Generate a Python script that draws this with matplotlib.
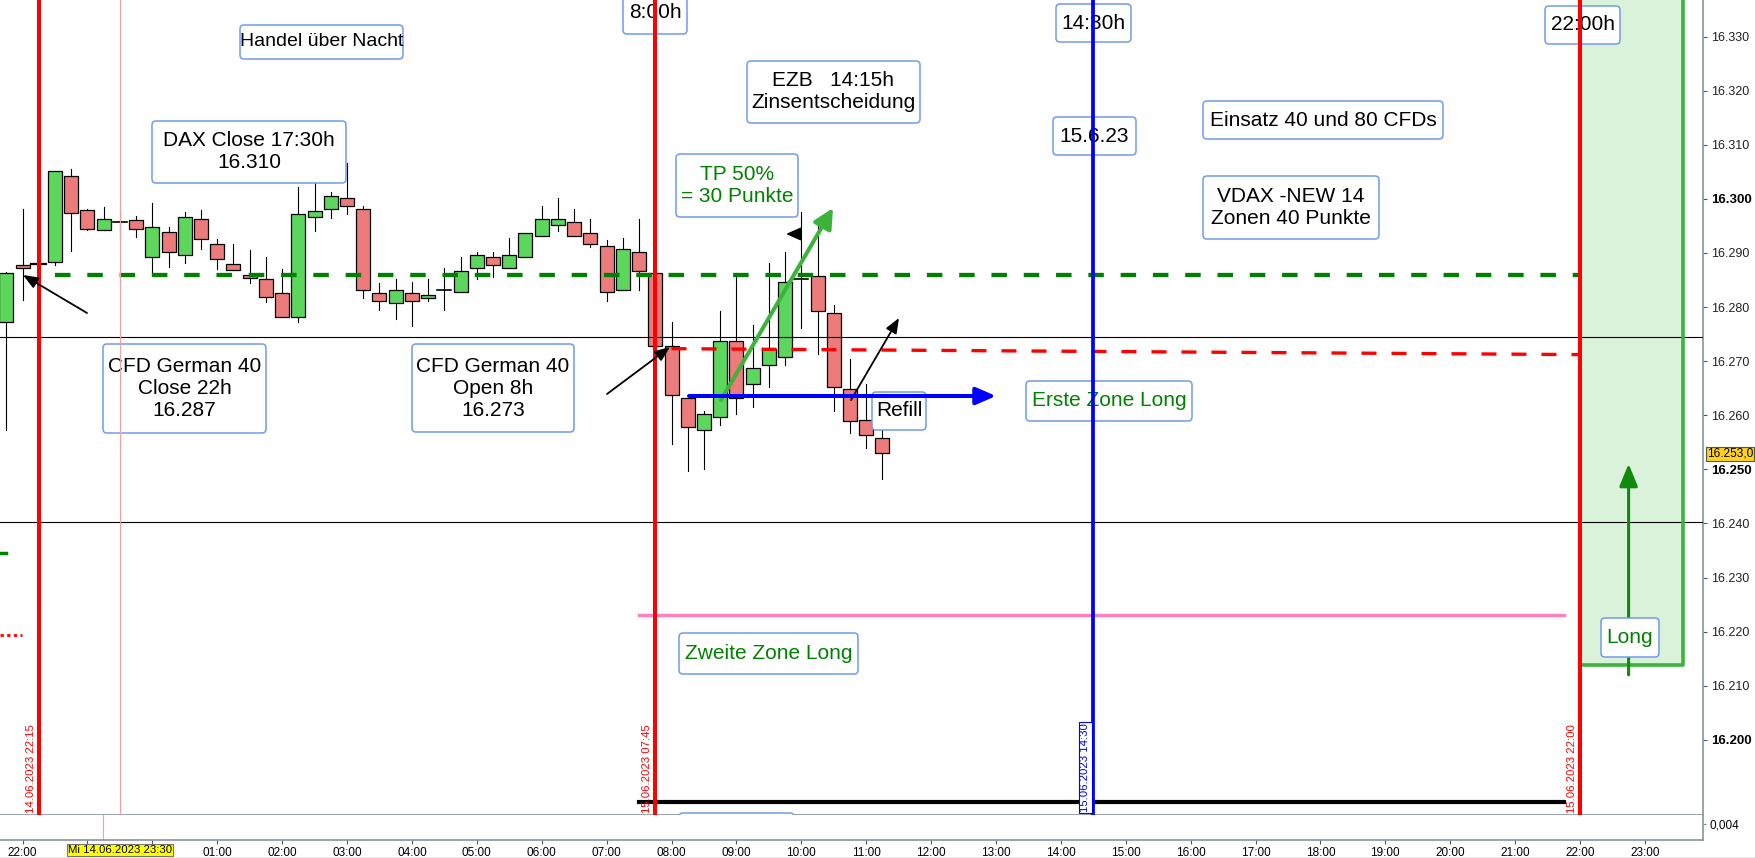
import matplotlib
matplotlib.use("Agg")
import matplotlib.pyplot as plt
from matplotlib.patches import Rectangle, FancyBboxPatch

plt.rcParams['font.family'] = ['Liberation Sans', 'DejaVu Sans']

# 15-min candles CFD German 40, 14.06.2023 21:45 .. 15.06.2023 11:15 (no bar at 22:15)
times = ['21:45', '22:00', '22:30', '22:45', '23:00', '23:15', '23:30', '23:45',
         '00:00', '00:15', '00:30', '00:45', '01:00', '01:15', '01:30', '01:45',
         '02:00', '02:15', '02:30', '02:45', '03:00', '03:15', '03:30', '03:45',
         '04:00', '04:15', '04:30', '04:45', '05:00', '05:15', '05:30', '05:45',
         '06:00', '06:15', '06:30', '06:45', '07:00', '07:15', '07:30', '07:45',
         '08:00', '08:15', '08:30', '08:45', '09:00', '09:15', '09:30', '09:45',
         '10:00', '10:15', '10:30', '10:45', '11:00', '11:15']
opens = [16277.2, 16287.8, 16288.3, 16304.2, 16297.9, 16294.2, 16295.8, 16296.0,
         16289.3, 16293.8, 16289.6, 16296.2, 16291.6, 16287.9, 16285.9, 16285.1,
         16282.6, 16278.1, 16296.6, 16298.1, 16300.1, 16298.1, 16282.6, 16280.7,
         16282.6, 16281.6, 16283.1, 16282.7, 16287.2, 16289.2, 16287.2, 16289.2,
         16293.1, 16295.1, 16295.7, 16293.6, 16291.2, 16283.1, 16290.1, 16286.2,
         16272.7, 16263.1, 16257.2, 16259.6, 16273.7, 16265.7, 16269.2, 16270.7,
         16285.1, 16285.7, 16278.8, 16264.8, 16259.2, 16255.7]
highs = [16286.4, 16298.1, 16305.1, 16305.5, 16298.1, 16298.4, 16297.6, 16296.8,
         16299.3, 16294.7, 16297.6, 16297.9, 16292.6, 16291.6, 16290.5, 16289.2,
         16287.0, 16302.1, 16304.2, 16301.2, 16306.6, 16298.7, 16284.5, 16285.1,
         16284.6, 16285.1, 16287.2, 16289.2, 16290.2, 16290.2, 16292.7, 16293.6,
         16298.7, 16300.1, 16298.1, 16296.2, 16292.3, 16292.7, 16296.2, 16286.2,
         16277.2, 16263.1, 16260.8, 16279.2, 16286.2, 16276.6, 16288.1, 16290.2,
         16297.5, 16296.2, 16280.3, 16270.3, 16265.7, 16258.3]
lows = [16257.3, 16281.3, 16287.8, 16290.4, 16294.3, 16294.2, 16292.7, 16293.0,
        16285.9, 16287.4, 16288.1, 16290.7, 16287.0, 16286.8, 16284.5, 16281.0,
        16278.1, 16277.2, 16294.1, 16296.5, 16297.1, 16281.6, 16279.5, 16277.7,
        16276.5, 16281.2, 16279.5, 16282.7, 16285.1, 16285.6, 16287.2, 16289.2,
        16293.1, 16294.1, 16293.1, 16291.1, 16281.2, 16283.1, 16283.1, 16272.7,
        16254.6, 16249.6, 16250.1, 16258.1, 16260.2, 16261.6, 16265.2, 16269.2,
        16276.2, 16271.3, 16260.7, 16256.8, 16253.9, 16248.2]
closes = [16286.2, 16287.2, 16305.1, 16297.3, 16294.5, 16296.2, 16295.8, 16294.4,
          16294.7, 16290.1, 16296.6, 16292.5, 16288.8, 16286.8, 16285.4, 16281.8,
          16278.1, 16297.1, 16297.7, 16300.6, 16298.6, 16283.1, 16281.2, 16283.1,
          16281.2, 16282.2, 16283.1, 16286.6, 16289.6, 16287.7, 16289.6, 16293.6,
          16296.2, 16296.2, 16293.1, 16291.6, 16282.7, 16290.7, 16286.6, 16272.7,
          16263.7, 16257.8, 16260.2, 16273.7, 16263.1, 16268.7, 16272.2, 16284.6,
          16285.1, 16279.2, 16265.3, 16258.9, 16256.3, 16253.0]

# axes labels
price_ticks = [16200, 16210, 16220, 16230, 16240, 16250, 16260, 16270,
               16280, 16290, 16300, 16310, 16320, 16330]
bold_ticks = [16200, 16250, 16300]
# 23:00 and 00:00 are hidden behind the yellow cursor date
hour_labels = ['22:00', '', '', '01:00', '02:00', '03:00', '04:00', '05:00',
               '06:00', '07:00', '08:00', '09:00', '10:00', '11:00', '12:00', '13:00',
               '14:00', '15:00', '16:00', '17:00', '18:00', '19:00', '20:00', '21:00',
               '22:00', '23:00']

# drawn levels
close_22h = 16286.0          # green dashed
open_8h = [16272.3, 16271.2]  # red dashed, 08:00 -> 22:00
zone1 = 16263.6              # blue arrow "Erste Zone Long"
zone2 = 16223.0              # pink line "Zweite Zone Long"
low_line = 16188.5
thin_lines = [16274.4, 16240.3]
long_box_bottom = 16213.8
long_arrow = [16212.0, 16251.0]
last_price = 16253.0

# session markers ('+' = 15.06. afternoon/evening)
red_marks = [('22:15', '14.06.2023 22:15'), ('07:45', '15.06.2023 07:45'),
             ('22:00+', '15.06.2023 22:00')]
blue_mark = ('14:30+', '15.06.2023 14:30')


def hours(t):
    """hours after 14.06. 22:00; mornings belong to 15.06., '+' marks 15.06. after noon"""
    nxt = t.endswith('+')
    hh, mm = map(int, t.rstrip('+').split(':'))
    if hh < 12 or nxt:
        hh += 24
    return hh - 22 + mm / 60


# pixel layout of the screenshot (1755 x 858)
W, H = 1755, 858
X22, PX_H = 22.6, 64.89   # pixel of 22:00, pixels per hour
Y250, PX_PT = 469.3, 5.41  # pixel of 16.250, pixels per point
AX_R, AX_B = 1703, 815


def px(x, y):
    return (x - X22) / PX_H, 16250 - (y - Y250) / PX_PT


BOX_EC = '#6f9bef'
GREEN_TXT = '#008000'

fig = plt.figure(figsize=(W / 100, H / 100), dpi=100)
ax = fig.add_axes([0, 1 - AX_B / H, AX_R / W, AX_B / H])
ax.set_xlim(px(0, 0)[0], px(AX_R, 0)[0])
ax.set_ylim(px(0, AX_B)[1], px(0, 0)[1])

# candles
bw = 14 / PX_H
for t, o, h, l, c in zip(times, opens, highs, lows, closes):
    x = hours(t)
    ax.plot([x, x], [l, h], color='black', lw=0.8, zorder=2)
    if abs(c - o) < 0.3:
        ax.plot([x - bw / 2, x + bw / 2], [c, c], color='black', lw=1.2, zorder=2)
        continue
    fc = '#5cd65c' if c > o else '#ec7b7b'
    ax.add_patch(Rectangle((x - bw / 2, min(o, c)), bw, abs(c - o),
                           fc=fc, ec='black', lw=0.9, zorder=2))

# horizontal levels
for v in thin_lines:
    ax.axhline(v, color='black', lw=0.8, zorder=3)
ax.plot([hours('22:30'), hours('22:00+')], [close_22h, close_22h], color='#008000',
        lw=3.1, ls=(0, (3.6, 3.9)), zorder=3)
ax.plot([hours('08:00'), hours('22:00+')], open_8h, color='#ff0000',
        lw=2.4, ls=(0, (4.5, 4.5)), zorder=3)
ax.plot([hours('07:30'), hours('21:45+')], [zone2, zone2], color='#ff80c0', lw=2.4, zorder=3)
ax.plot([hours('07:30'), hours('21:45+')], [low_line, low_line], color='black', lw=3, zorder=3)
ax.plot([px(31, 0)[0], px(46, 0)[0]], [16288, 16288], color='black', lw=1.6, zorder=3)
ax.plot([px(0, 0)[0], px(6, 0)[0]], [16234.5, 16234.5], color='#008000', lw=2.5, zorder=3)
ax.plot([px(0, 0)[0], px(22, 0)[0]], [16219.4, 16219.4], color='#ff0000', lw=2,
        ls=(0, (1.2, 1.2)), zorder=3)

# long zone after 22:00
x_gr = px(1683, 0)[0]
ax.add_patch(Rectangle((hours('22:00+'), long_box_bottom), x_gr - hours('22:00+'), 200,
                       fc='#daf2da', ec='none', zorder=1))
ax.plot([hours('22:00+'), x_gr, x_gr], [long_box_bottom, long_box_bottom, 16400],
        color='#3cb43c', lw=2.6, zorder=3)


def note(x0, y0, x1, y1, text, color='black', size=15):
    a, b = px(x0, y1)
    c, d = px(x1, y0)
    ax.add_patch(FancyBboxPatch((a, b), c - a, d - b,
                                boxstyle=f'round,pad=0,rounding_size={4 / PX_H}',
                                mutation_aspect=PX_H / PX_PT, fc='white', ec=BOX_EC,
                                lw=1.1, zorder=4))
    ax.text((a + c) / 2, (b + d) / 2, text, ha='center', va='center', color=color,
            fontsize=size, zorder=5, linespacing=1.2)


note(240, 25, 403, 59, 'Handel über Nacht', size=14)
note(152, 121, 346, 183, 'DAX Close 17:30h\n16.310')
note(103, 344, 266, 433, 'CFD German 40\nClose 22h\n16.287')
note(412, 344, 574, 432, 'CFD German 40\nOpen 8h\n16.273')
note(623, -8, 687, 34, '8:00h')
note(747, 61, 920, 123, 'EZB   14:15h\nZinsentscheidung')
note(676, 154, 798, 217, 'TP 50%\n= 30 Punkte', GREEN_TXT)
note(1056, 4, 1131, 42, '14:30h')
note(1053, 117, 1136, 155, '15.6.23')
note(1203, 101, 1443, 139, 'Einsatz 40 und 80 CFDs')
note(1203, 176, 1379, 239, 'VDAX -NEW 14\nZonen 40 Punkte')
note(1545, 6, 1620, 44, '22:00h')
note(1026, 381, 1192, 421, 'Erste Zone Long', GREEN_TXT)
note(872, 392, 926, 430, 'Refill')
note(679, 633, 858, 674, 'Zweite Zone Long', GREEN_TXT)
note(1601, 618, 1659, 657, 'Long', GREEN_TXT)
note(679, 813, 794, 850, '')

# vertical session lines
for t, lab in red_marks:
    x = hours(t)
    ax.axvline(x, color='#ff0000', lw=2.9, zorder=6)
    ax.text(x - 8 / PX_H, px(0, 813)[1], lab, rotation=90, ha='center', va='bottom',
            color='#ff0000', fontsize=8.2, zorder=6)
xb = hours(blue_mark[0])
ax.axvline(xb, color='#0000ff', lw=2.7, zorder=6)
ax.text(xb - 8 / PX_H, px(0, 812)[1], blue_mark[1], rotation=90, ha='center', va='bottom',
        color='#0000ff', fontsize=8.2, zorder=6,
        bbox=dict(boxstyle='square,pad=0.12', fc='white', ec='#0000ff', lw=0.8))
ax.axvline(hours('23:30'), color='#f4a0a0', lw=0.8, zorder=6)


# arrows
def arrow(p0, p1, color, lw, hl, hw, z=7, ms=20):
    ax.annotate('', xy=px(*p1), xytext=px(*p0),
                arrowprops=dict(arrowstyle=f'-|>,head_length={hl},head_width={hw}',
                                color=color, lw=lw, mutation_scale=ms,
                                shrinkA=0, shrinkB=0), zorder=z)


arrow((87, 313), (23, 275), 'black', 1.3, 0.45, 0.18)
arrow((607, 394), (670, 347), 'black', 1.3, 0.45, 0.18)
arrow((851, 400), (899, 318), 'black', 1.3, 0.45, 0.18)
arrow((801, 234), (786, 234), 'black', 1.3, 0.45, 0.2)
arrow((721, 400), (833, 208), '#3cb43c', 2.9, 0.6, 0.3)
arrow((689, 396), (996, 396), '#0000ff', 2.9, 0.6, 0.26)
x_up = px(1628.6, 0)[0]
ax.annotate('', xy=(x_up, long_arrow[1]), xytext=(x_up, long_arrow[0]), zorder=3,
            arrowprops=dict(arrowstyle='-|>,head_length=0.68,head_width=0.28',
                            color='#0f8a0f', lw=2.2, mutation_scale=20,
                            shrinkA=0, shrinkB=0))

# price axis on the right
ax.yaxis.tick_right()
ax.set_yticks(price_ticks)
ax.set_yticklabels([f'{v / 1000:.3f}' for v in price_ticks])
ax.tick_params(axis='y', direction='out', length=3, width=0.8, color='#555555',
               labelsize=9, pad=3, labelcolor='#222222')
for lbl, v in zip(ax.get_yticklabels(), price_ticks):
    if v in bold_ticks:
        lbl.set_fontweight('bold')
        lbl.set_fontsize(9.5)
        lbl.set_color('black')
ax.tick_params(axis='x', bottom=False, labelbottom=False)
for s in ['top', 'left']:
    ax.spines[s].set_visible(False)
for s in ['right', 'bottom']:
    ax.spines[s].set_color('#8793a0')
    ax.spines[s].set_linewidth(1.2)

fig.text(1707 / W, 1 - 454 / H, f'{last_price / 1000:.3f},0',
         fontsize=8.6, ha='left', va='center',
         bbox=dict(boxstyle='square,pad=0.1', fc='#ffd21f', ec='#555555', lw=0.8))

# lower panel with the time axis
sub = fig.add_axes([0, 1 - 840 / H, AX_R / W, 25 / H])
sub.set_xlim(ax.get_xlim())
sub.set_ylim(0, 1)
sub.axvline(px(103, 0)[0], color='#f4a0a0', lw=0.8)
sub.set_xticks(range(len(hour_labels)))
sub.set_xticklabels(hour_labels)
sub.tick_params(axis='x', direction='out', length=3, width=0.8, color='#555555',
                labelsize=8.5, pad=2)
sub.yaxis.tick_right()
sub.set_yticks([0.64])
sub.set_yticklabels(['0,004'])
sub.tick_params(axis='y', direction='out', length=2, color='#888888', labelsize=8.5, pad=3)
for s in ['top', 'left']:
    sub.spines[s].set_visible(False)
for s in ['right', 'bottom']:
    sub.spines[s].set_color('#8793a0')
    sub.spines[s].set_linewidth(1.2)

fig.text(120 / W, 1 - 850 / H, 'Mi 14.06.2023 23:30', fontsize=8.2, ha='center', va='center',
         bbox=dict(boxstyle='square,pad=0.12', fc='#ffff00', ec='#777777', lw=0.8))
fig.add_artist(plt.Line2D([0, 1], [0.5 / H, 0.5 / H], color='#8793a0', lw=1))

fig.savefig('out.png', dpi=100)
